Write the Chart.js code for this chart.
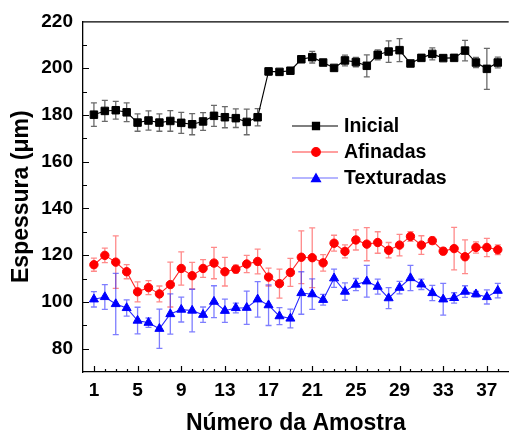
<!DOCTYPE html>
<html>
<head>
<meta charset="utf-8">
<script src="https://cdn.jsdelivr.net/npm/chart.js@4.4.0/dist/chart.umd.min.js"></script>
<style>
html,body{margin:0;padding:0;background:#fff;}
#wrap{width:515px;height:439px;position:relative;}
</style>
</head>
<body>
<div id="wrap"><canvas id="c" width="515" height="439"></canvas></div>
<script>
const samples = [1,2,3,4,5,6,7,8,9,10,11,12,13,14,15,16,17,18,19,20,21,22,23,24,25,26,27,28,29,30,31,32,33,34,35,36,37,38];

const inicial = [180.1,181.7,182.0,181.1,176.7,177.6,176.7,177.4,176.6,176.0,177.2,179.6,179.0,178.6,177.0,179.0,198.6,198.4,198.9,203.8,204.7,202.4,200.1,203.3,202.6,201.0,205.7,207.1,207.7,202.0,204.4,206.1,204.3,204.4,207.5,202.4,199.7,202.4];
const inicialErr = [5.0,4.5,3.8,4.0,3.7,4.1,3.7,4.4,4.5,4.5,3.8,4.5,4.5,4.0,5.5,3.7,1.5,1.0,1.0,1.0,2.5,1.0,1.0,2.3,2.0,4.7,2.1,4.6,4.9,1.0,1.0,2.6,1.0,1.0,4.4,2.2,8.8,2.3];

const afinadas = [115.9,119.9,117.0,112.9,104.3,106.1,103.4,107.4,114.3,111.2,114.3,116.6,112.9,114.0,116.2,117.3,110.6,107.8,112.6,119.1,118.9,116.7,125.1,121.6,126.5,124.7,125.4,122.1,124.3,128.0,124.3,126.2,121.7,122.8,119.3,123.3,123.3,122.3];
const afinadasErr = [2.8,3.1,11.2,3.0,4.3,3.0,3.4,9.6,7.1,5.7,3.8,6.7,6.1,1.7,3.7,5.3,3.8,6.2,6.0,11.3,12.8,3.5,3.4,2.8,4.3,7.1,4.6,3.3,4.6,2.1,4.0,1.5,1.5,9.1,7.2,2.4,3.9,2.1];

const texturadas = [101.1,102.1,99.1,97.4,92.0,91.1,88.5,94.8,96.7,96.3,94.5,100.1,96.2,97.4,97.5,101.1,98.6,93.9,92.9,103.8,103.3,100.9,110.1,104.4,107.4,108.8,106.5,101.6,106.1,110.2,107.5,103.8,101.1,101.7,104.4,103.3,102.1,104.8];
const texturadasErr = [3.3,5.3,13.1,3.5,5.7,2.0,8.4,8.6,5.3,9.1,3.3,6.8,5.0,2.1,7.1,7.6,8.7,3.6,4.0,9.1,6.5,2.3,3.9,3.7,2.6,6.8,3.2,4.5,2.7,5.4,2.2,3.3,6.8,2.2,2.5,1.2,3.0,3.1];

const seriesNames = ['Inicial','Afinadas','Texturadas'];
const xTickLabels = [1,5,9,13,17,21,25,29,33,37];
const yTickLabels = [80,100,120,140,160,180,200,220];

const FONT = "'Liberation Sans', Arial, sans-serif";

function pts(vals){ return samples.map((s,i)=>({x:s,y:vals[i]})); }

const errs = [inicialErr, afinadasErr, texturadasErr];
const errColors = ['rgba(80,80,80,0.85)','rgba(255,60,60,0.6)','rgba(40,40,255,0.6)'];

const errorBarPlugin = {
  id:'errbars',
  beforeDatasetsDraw(chart){
    const ctx = chart.ctx, xs = chart.scales.x, ys = chart.scales.y;
    ctx.save();
    chart.data.datasets.forEach((ds,di)=>{
      ctx.strokeStyle = errColors[di];
      ctx.lineWidth = 1.3;
      ds.data.forEach((p,i)=>{
        const e = errs[di][i];
        const px = xs.getPixelForValue(p.x);
        const y1 = ys.getPixelForValue(p.y+e), y2 = ys.getPixelForValue(p.y-e);
        ctx.beginPath();
        ctx.moveTo(px,y1); ctx.lineTo(px,y2);
        ctx.moveTo(px-3,y1); ctx.lineTo(px+3,y1);
        ctx.moveTo(px-3,y2); ctx.lineTo(px+3,y2);
        ctx.stroke();
      });
    });
    ctx.restore();
  }
};

const framePlugin = {
  id:'frame',
  afterDraw(chart){
    const ctx = chart.ctx, xs = chart.scales.x, ys = chart.scales.y, a = chart.chartArea;
    ctx.save();
    ctx.strokeStyle = '#000';
    ctx.lineWidth = 1.2;
    ctx.beginPath(); ctx.moveTo(a.left, a.top+0.5); ctx.lineTo(a.right, a.top+0.5); ctx.stroke();
    ctx.beginPath();
    for(let v=1; v<=38; v++){
      const px = Math.round(xs.getPixelForValue(v))+0.5;
      const major = ((v-1)%4===0);
      ctx.moveTo(px, a.bottom); ctx.lineTo(px, a.bottom-(major?6:3));
    }
    for(let v=80; v<220; v+=10){
      const py = Math.round(ys.getPixelForValue(v))+0.5;
      const major = (v%20===0);
      ctx.moveTo(a.left, py); ctx.lineTo(a.left+(major?6:4), py);
    }
    ctx.stroke();

    const rows = [
      {name:seriesNames[0], line:'#000', col:'#000', style:'rect', r:5},
      {name:seriesNames[1], line:'rgba(255,0,0,0.75)', col:'#ff0000', style:'circle', r:4.3},
      {name:seriesNames[2], line:'rgba(60,60,255,0.75)', col:'#0000ff', style:'triangle', r:5.2}
    ];
    const lx1 = 292, lx2 = 338, mx = 316, tx = 344;
    const ly = [126, 152, 178];
    ctx.font = "bold 19.5px " + FONT;
    ctx.textBaseline = 'middle';
    ctx.textAlign = 'left';
    rows.forEach((r,i)=>{
      const y = ly[i];
      ctx.strokeStyle = r.line; ctx.lineWidth = 1.2;
      ctx.beginPath(); ctx.moveTo(lx1,y); ctx.lineTo(lx2,y); ctx.stroke();
      ctx.fillStyle = r.col; ctx.strokeStyle = r.col;
      Chart.helpers.drawPoint(ctx, {pointStyle:r.style, radius:r.r, borderWidth:1}, mx, r.style==='triangle'? y+1 : y);
      ctx.fillStyle = '#000';
      ctx.fillText(r.name, tx, y+1);
    });
    ctx.restore();
  }
};

function ds(label, vals, color, style, radius, lineColor){
  return {
    label, data: pts(vals),
    borderColor: lineColor, backgroundColor: color,
    pointBackgroundColor: color, pointBorderColor: color,
    pointStyle: style, pointRadius: radius, pointBorderWidth: 1,
    borderWidth: 1.1, tension: 0, showLine: true
  };
}

new Chart(document.getElementById('c'), {
  type:'scatter',
  data:{ datasets:[
    ds(seriesNames[0], inicial, '#000000', 'rect', 5.3, '#000000'),
    ds(seriesNames[1], afinadas, '#ff0000', 'circle', 4.2, 'rgba(255,0,0,0.85)'),
    ds(seriesNames[2], texturadas, '#0000ff', 'triangle', 5.2, 'rgba(0,0,255,0.85)')
  ]},
  options:{
    responsive:false, animation:false,
    layout:{ padding:{ top:19, right:1, left:0, bottom:0 } },
    plugins:{ legend:{display:false}, tooltip:{enabled:false} },
    scales:{
      x:{
        type:'linear', min:0, max:39,
        afterBuildTicks(s){ s.ticks = xTickLabels.map(v=>({value:v})); },
        afterFit(s){ s.height = 67; },
        grid:{ display:false, drawTicks:false },
        border:{ display:true, color:'#000', width:1.3 },
        ticks:{ color:'#000', padding:7, autoSkip:false, maxRotation:0, font:{family:FONT, size:19, weight:'bold'}, callback:v=>String(v) },
        title:{ display:true, text:'Número da Amostra', color:'#000', font:{family:FONT, size:23, weight:'bold'}, padding:{top:0,bottom:2} }
      },
      y:{
        type:'linear', min:70, max:220,
        afterBuildTicks(s){ s.ticks = yTickLabels.map(v=>({value:v})); },
        afterFit(s){ s.width = 83; },
        grid:{ display:false, drawTicks:false },
        border:{ display:true, color:'#000', width:1.3 },
        ticks:{ color:'#000', padding:10, font:{family:FONT, size:19, weight:'bold'}, callback:v=>String(v) },
        title:{ display:true, text:'Espessura (μm)', color:'#000', font:{family:FONT, size:23, weight:'bold'}, padding:{top:8,bottom:0} }
      }
    }
  },
  plugins:[errorBarPlugin, framePlugin]
});
</script>
</body>
</html>
